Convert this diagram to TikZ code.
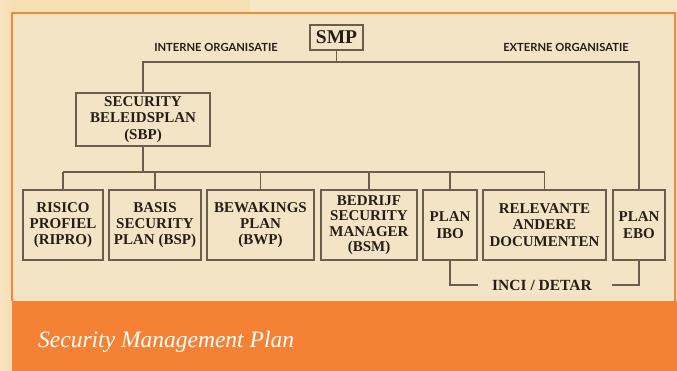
\documentclass[tikz,border=0pt]{standalone}
\usepackage{fontspec}
\setmainfont{Liberation Serif}
\newfontfamily\labelfont{Lato}
\definecolor{bgout}{HTML}{F5DFB3}
\definecolor{bgtop}{HTML}{F8E7C6}
\definecolor{panel}{HTML}{F3E4C5}
\definecolor{orangeb}{HTML}{F5863A}
\definecolor{barcol}{HTML}{F58234}
\definecolor{linec}{HTML}{6A5E4C}
\definecolor{txt}{HTML}{261E16}
\begin{document}
\begin{tikzpicture}[x=1pt,y=-1pt,
  box/.style={draw=linec,line width=1.6pt,fill=panel,text=txt,inner sep=0pt,
    align=center,font=\fontsize{15}{16.3}\selectfont\bfseries},
  conn/.style={draw=linec,line width=1.6pt},
  orglabel/.style={text=txt,font=\labelfont\fontsize{11.2}{12}\selectfont\bfseries,inner sep=0pt}]
\useasboundingbox (0,0) rectangle (677,371);
% background
\fill[bgout] (0,0) rectangle (677,371);
\shade[left color=bgout!85!orange!60!white, right color=bgout] (0,0) rectangle (12,371);
\fill[bgtop] (250,0) rectangle (677,12);
% panel
\fill[panel] (12,13) rectangle (675,301);
\draw[orangeb,line width=1.5pt] (12,301) -- (12,13) -- (675,13) -- (675,301);
\fill[barcol] (12,301) rectangle (677,371);
\node[text=white,font=\fontsize{23.5}{25}\selectfont\itshape,anchor=base west,inner sep=0pt] (title) at (38,347) {Security Management Plan};
% nodes
\node[box,minimum width=53pt,minimum height=25pt,font=\fontsize{19.5}{20}\selectfont\bfseries] (smp) at (336.5,37.5) {SMP};
\node[orglabel] (intern) at (216,47) {INTERNE ORGANISATIE};
\node[orglabel] (extern) at (566,47) {EXTERNE ORGANISATIE};
\node[box,minimum width=134pt,minimum height=53pt] (sbp) at (143,119.5) {SECURITY\\BELEIDSPLAN\\(SBP)};
\node[box,minimum width=80pt,minimum height=70pt] (ripro) at (63,225) {RISICO\\PROFIEL\\(RIPRO)};
\node[box,minimum width=92pt,minimum height=70pt] (bsp) at (155,225) {BASIS\\SECURITY\\PLAN (BSP)};
\node[box,minimum width=107pt,minimum height=70pt] (bwp) at (260.5,225) {BEWAKINGS\\PLAN\\(BWP)};
\node[box,minimum width=96pt,minimum height=70pt,font=\fontsize{15}{15.5}\selectfont\bfseries] (bsm) at (369,225) {BEDRIJF\\SECURITY\\MANAGER\\(BSM)};
\node[box,minimum width=54pt,minimum height=70pt] (ibo) at (450,225) {PLAN\\IBO};
\node[box,minimum width=123pt,minimum height=70pt] (rad) at (544.5,225) {RELEVANTE\\ANDERE\\DOCUMENTEN};
\node[box,minimum width=52pt,minimum height=70pt] (ebo) at (639,225) {PLAN\\EBO};
\node[text=txt,font=\fontsize{15.5}{16}\selectfont\bfseries,inner sep=0pt] (inci) at (542,285) {INCI / DETAR};
\coordinate (bus) at (0,172);
\coordinate (top) at (0,62);
\coordinate (low) at (0,285);
% connectors
\draw[conn] (smp.south) -- (smp.south |- top);
\draw[conn] (sbp.north) -- (sbp.north |- top) -- (ebo.north |- top) -- (ebo.north);
\draw[conn] (sbp.south) -- (sbp.south |- bus);
\draw[conn] (ripro.north |- bus) -- (rad.north |- bus);
\foreach \n in {ripro,bsp,bwp,bsm,ibo,rad}
  \draw[conn] (\n.north) -- (\n.north |- bus);
\draw[conn] (ibo.south) -- (ibo.south |- low) -- (ibo.east |- low);
\draw[conn] (ebo.south) -- (ebo.south |- low) -- (ebo.west |- low);
\end{tikzpicture}
\end{document}
